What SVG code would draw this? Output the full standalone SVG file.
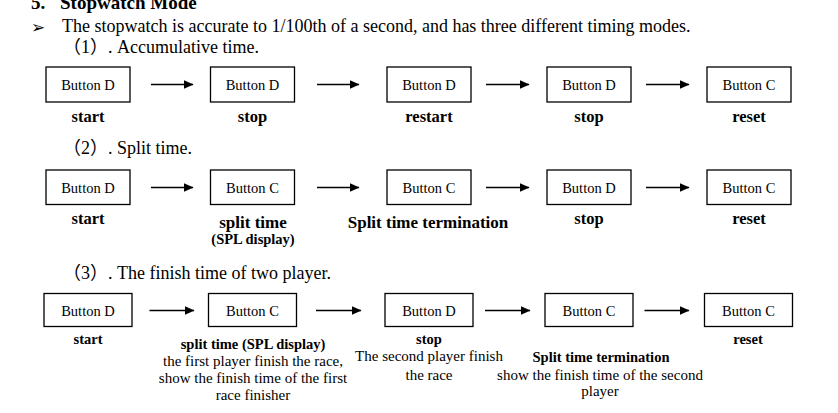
<svg xmlns="http://www.w3.org/2000/svg" width="838" height="413" viewBox="0 0 838 413">
<style>
text{font-family:"Liberation Serif","Noto Sans CJK SC",serif;fill:#000}
.hd{font-size:18px}
.ttl{font-size:19px;font-weight:bold}
.bt{font-size:14.5px;text-anchor:middle}
.lb{font-size:16.5px;font-weight:bold;text-anchor:middle}
.lbs{font-size:14.5px;font-weight:bold;text-anchor:middle}
.ds{font-size:15px;text-anchor:middle}
.box{fill:#fff;stroke:#000;stroke-width:1.3}
.ar{stroke:#000;stroke-width:1.3;fill:none;marker-end:url(#ah)}
</style>
<defs>
<marker id="ah" markerUnits="userSpaceOnUse" markerWidth="10" markerHeight="10" refX="9.5" refY="4.5" orient="auto">
<path d="M0,0 L10,4.5 L0,9 Z" fill="#000"/>
</marker>
</defs>
<rect width="838" height="413" fill="#fff"/>
<g id="headings">
<text class="ttl" x="31" y="9">5.</text>
<text class="ttl" x="60" y="9">Stopwatch Mode</text>
<text x="31" y="33" style="font-family:'DejaVu Sans',sans-serif;font-size:17px">➢</text>
<text class="hd" x="62" y="32">The stopwatch is accurate to 1/100th of a second, and has three different timing modes.</text>
<text class="hd" x="63" y="53">（1）. Accumulative time.</text>
<text class="hd" x="63" y="153.5">（2）. Split time.</text>
<text class="hd" x="63" y="278.5">（3）. The finish time of two player.</text>
</g>
<g id="connectors">
<line class="ar" x1="151" y1="84.5" x2="193" y2="84.5"/>
<line class="ar" x1="317" y1="84.5" x2="359" y2="84.5"/>
<line class="ar" x1="486" y1="84.5" x2="529" y2="84.5"/>
<line class="ar" x1="646" y1="84.5" x2="689" y2="84.5"/>
<line class="ar" x1="151" y1="187.5" x2="193" y2="187.5"/>
<line class="ar" x1="317" y1="187.5" x2="359" y2="187.5"/>
<line class="ar" x1="486" y1="187.5" x2="529" y2="187.5"/>
<line class="ar" x1="646" y1="187.5" x2="689" y2="187.5"/>
<line class="ar" x1="149.5" y1="310.5" x2="194" y2="310.5"/>
<line class="ar" x1="316" y1="310.5" x2="361" y2="310.5"/>
<line class="ar" x1="485" y1="310.5" x2="530" y2="310.5"/>
<line class="ar" x1="644.5" y1="310.5" x2="689" y2="310.5"/>
</g>
<g id="r1n1"><rect class="box" x="46" y="67" width="84" height="35"/><text class="bt" x="88" y="90">Button D</text><text class="lb" x="88" y="122">start</text></g>
<g id="r1n2"><rect class="box" x="210.5" y="67" width="84" height="35"/><text class="bt" x="252.5" y="90">Button D</text><text class="lb" x="252.5" y="122">stop</text></g>
<g id="r1n3"><rect class="box" x="387" y="67" width="84" height="35"/><text class="bt" x="429" y="90">Button D</text><text class="lb" x="429" y="122">restart</text></g>
<g id="r1n4"><rect class="box" x="547" y="67" width="84" height="35"/><text class="bt" x="589" y="90">Button D</text><text class="lb" x="589" y="122">stop</text></g>
<g id="r1n5"><rect class="box" x="707" y="67" width="84" height="35"/><text class="bt" x="749" y="90">Button C</text><text class="lb" x="749" y="122">reset</text></g>

<g id="r2n1"><rect class="box" x="46" y="170" width="84" height="34.5"/><text class="bt" x="88" y="193">Button D</text><text class="lb" x="88" y="223.5">start</text></g>
<g id="r2n2"><rect class="box" x="210.5" y="170" width="84" height="34.5"/><text class="bt" x="252.5" y="193">Button C</text><text class="lb" x="253" y="228" style="font-size:17px">split time</text><text class="lbs" x="253" y="243.5">(SPL display)</text></g>
<g id="r2n3"><rect class="box" x="387" y="170" width="84" height="34.5"/><text class="bt" x="429" y="193">Button C</text><text class="lb" x="428" y="228" style="font-size:17px">Split time termination</text></g>
<g id="r2n4"><rect class="box" x="547" y="170" width="84" height="34.5"/><text class="bt" x="589" y="193">Button D</text><text class="lb" x="589" y="224">stop</text></g>
<g id="r2n5"><rect class="box" x="707" y="170" width="84" height="34.5"/><text class="bt" x="749" y="193">Button C</text><text class="lb" x="749" y="224">reset</text></g>

<g id="r3n1"><rect class="box" x="44" y="293.5" width="88" height="33"/><text class="bt" x="88" y="316">Button D</text><text class="lbs" x="88" y="344">start</text></g>
<g id="r3n2"><rect class="box" x="208.5" y="293.5" width="88" height="33"/><text class="bt" x="252.5" y="316">Button C</text><text class="lbs" x="253" y="348.5">split time (SPL display)</text><text class="ds" x="253" y="366">the first player finish the race,</text><text class="ds" x="253" y="383">show the finish time of the first</text><text class="ds" x="253" y="399.5">race finisher</text></g>
<g id="r3n3"><rect class="box" x="385" y="293.5" width="88" height="33"/><text class="bt" x="429" y="316">Button D</text><text class="lbs" x="429" y="343.5">stop</text><text class="ds" x="429" y="361">The second player finish</text><text class="ds" x="429" y="379.5">the race</text></g>
<g id="r3n4"><rect class="box" x="545" y="293.5" width="88" height="33"/><text class="bt" x="589" y="316">Button C</text><text class="lbs" x="601" y="362">Split time termination</text><text class="ds" x="600" y="379.5">show the finish time of the second</text><text class="ds" x="600" y="396">player</text></g>
<g id="r3n5"><rect class="box" x="704.5" y="293.5" width="88" height="33"/><text class="bt" x="748.5" y="316">Button C</text><text class="lbs" x="748" y="344">reset</text></g>
</svg>
